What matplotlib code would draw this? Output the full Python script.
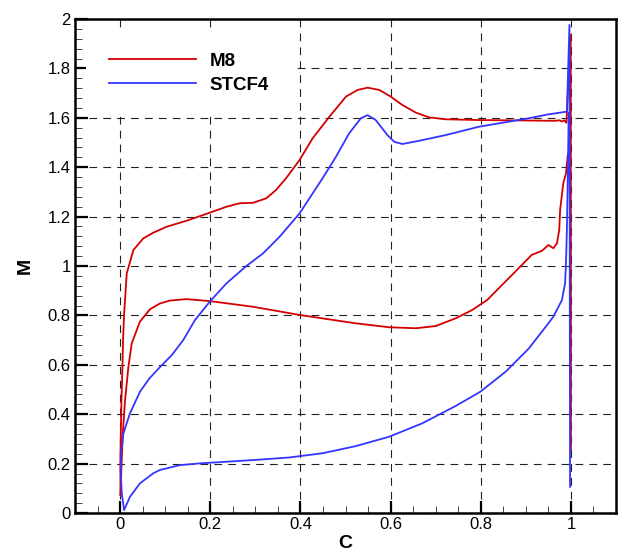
import numpy as np
import matplotlib
matplotlib.use("Agg")
import matplotlib.pyplot as plt
from matplotlib.ticker import MultipleLocator, FuncFormatter

plt.rcParams['font.family'] = ['Liberation Sans', 'DejaVu Sans']

# M8 : TE spike, upper surface back to LE, then lower surface to TE
m8_c = [1.0, 0.9995, 0.99, 0.985, 0.98, 0.975, 0.965, 0.906, 0.796, 0.722, 0.685, 0.656, 0.626,
        0.600, 0.575, 0.549, 0.527, 0.501, 0.464, 0.427, 0.398, 0.368, 0.346, 0.324, 0.295,
        0.265, 0.236, 0.199, 0.147, 0.103, 0.0737, 0.0515, 0.0295, 0.0147, 0.009, 0.0065,
        0.0052, 0.003, 0.0015, 0.0005, 0.001,
        0.003, 0.006, 0.011, 0.0184, 0.0258, 0.044, 0.0663, 0.088, 0.110, 0.147, 0.199, 0.295,
        0.398, 0.449, 0.523, 0.597, 0.656, 0.700, 0.744, 0.781, 0.814, 0.840, 0.884, 0.913,
        0.936, 0.950, 0.961, 0.969, 0.974, 0.976, 0.983, 0.989, 0.993]
m8_m = [0.255, 1.935, 1.58, 1.59, 1.585, 1.59, 1.588, 1.589, 1.591, 1.594, 1.602, 1.621, 1.652,
        1.686, 1.713, 1.722, 1.713, 1.686, 1.604, 1.517, 1.429, 1.355, 1.308, 1.274, 1.256,
        1.254, 1.240, 1.216, 1.183, 1.159, 1.135, 1.112, 1.065, 0.970, 0.81, 0.70,
        0.592, 0.457, 0.323, 0.2, 0.07,
        0.187, 0.323, 0.457, 0.592, 0.687, 0.775, 0.825, 0.848, 0.860, 0.866, 0.858, 0.835,
        0.802, 0.788, 0.768, 0.752, 0.748, 0.757, 0.788, 0.822, 0.862, 0.910, 0.991, 1.045,
        1.062, 1.085, 1.072, 1.092, 1.146, 1.227, 1.335, 1.375, 1.45]

# STCF4
st_c = [0.998, 0.9967, 0.991, 0.95, 0.906, 0.796, 0.722, 0.663, 0.626, 0.608, 0.593, 0.567,
        0.549, 0.534, 0.508, 0.479, 0.449, 0.398, 0.354, 0.317, 0.280, 0.236, 0.199, 0.166,
        0.14, 0.115, 0.088, 0.065, 0.044, 0.022, 0.0074, 0.0022, 0.0015, 0.0037, 0.0088,
        0.022, 0.044, 0.0737, 0.088, 0.1326, 0.177, 0.3, 0.376, 0.449, 0.523, 0.597, 0.670,
        0.744, 0.799, 0.855, 0.906, 0.95, 0.961, 0.980, 0.987, 0.989, 0.991, 0.993, 0.995]
st_m = [0.106, 1.976, 1.625, 1.614, 1.598, 1.564, 1.530, 1.507, 1.494, 1.503, 1.530, 1.591,
        1.611, 1.598, 1.537, 1.443, 1.355, 1.213, 1.119, 1.051, 1.0, 0.930, 0.856, 0.781,
        0.70, 0.64, 0.59, 0.545, 0.491, 0.404, 0.323, 0.242, 0.16, 0.08, 0.012,
        0.066, 0.12, 0.161, 0.174, 0.194, 0.201, 0.215, 0.225, 0.242, 0.271, 0.309, 0.363,
        0.433, 0.491, 0.572, 0.665, 0.768, 0.795, 0.862, 0.93, 1.011, 1.146, 1.362, 1.62]

fig = plt.figure(figsize=(6.19, 5.56), dpi=100)
ax = fig.add_axes([0.1212, 0.0773, 0.8740, 0.8885])

ax.plot(m8_c, m8_m, color='#d40000', lw=1.3, label='M8', zorder=3)
ax.plot(st_c, st_m, color='#3535ff', lw=1.3, label='STCF4', zorder=3)

ax.set_xlim(-0.1, 1.1)
ax.set_ylim(0, 2)
ax.xaxis.set_major_locator(MultipleLocator(0.2))
ax.xaxis.set_minor_locator(MultipleLocator(0.05))
ax.yaxis.set_major_locator(MultipleLocator(0.2))
ax.yaxis.set_minor_locator(MultipleLocator(0.04))
fmt = FuncFormatter(lambda v, p: '%g' % round(v, 3))
ax.xaxis.set_major_formatter(fmt)
ax.yaxis.set_major_formatter(fmt)

ax.tick_params(which='major', direction='in', length=9, width=1.6, labelsize=12, pad=3)
ax.tick_params(which='minor', direction='in', length=5, width=0.7, color='#444444')
for s in ax.spines.values():
    s.set_linewidth(1.8)

ax.grid(True, which='major', color='#222222', lw=0.8, linestyle=(0, (7, 5.5)))
ax.set_axisbelow(True)

ax.set_xlabel('C', fontsize=14, fontweight='bold', labelpad=2)
ax.set_ylabel('M', fontsize=14, fontweight='bold', labelpad=10)

leg = ax.legend(loc='upper left', bbox_to_anchor=(0.021, 0.978), borderaxespad=0,
                frameon=True, facecolor='white', edgecolor='none', framealpha=1,
                fancybox=False, borderpad=1.2, handlelength=4.64, handletextpad=0.75,
                labelspacing=0.39, prop={'weight': 'bold', 'size': 13.5})
leg.set_zorder(2)

fig.savefig('out.png', dpi=100)
